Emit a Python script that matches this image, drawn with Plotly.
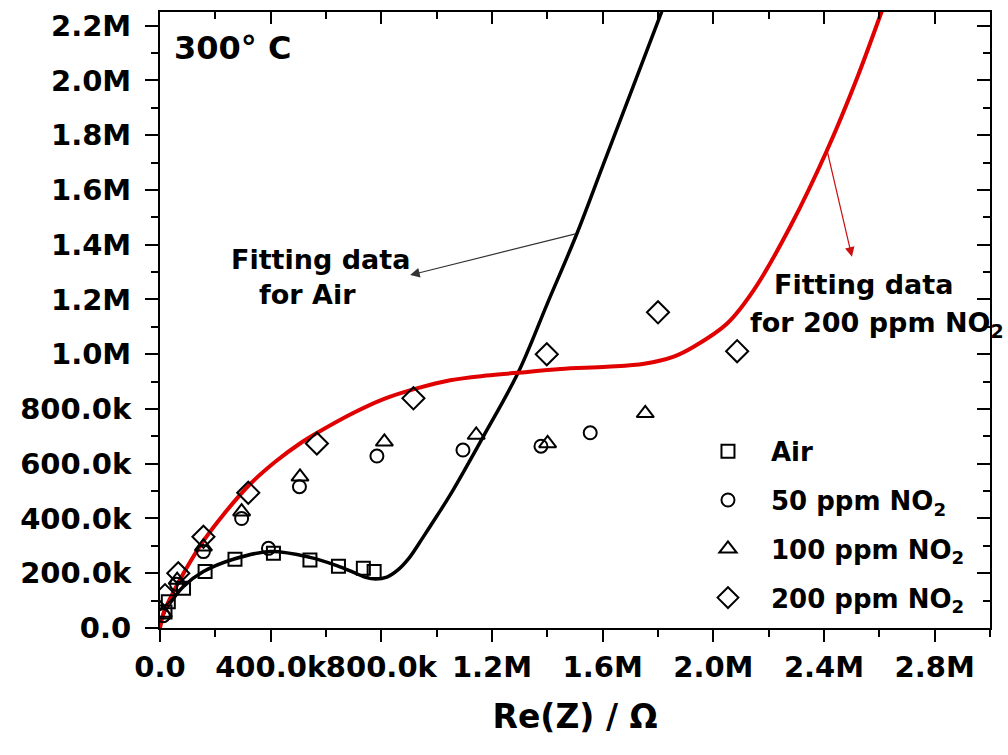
import plotly.graph_objects as go

# ---------------- data (ohm) ----------------
air_x = [18e3, 30e3, 85e3, 163e3, 271e3, 410e3, 542e3, 645e3, 735e3, 774e3]
air_y = [58e3, 96e3, 145e3, 206e3, 251e3, 273e3, 248e3, 226e3, 218e3, 206e3]

no2_50_x = [12e3, 60e3, 157e3, 295e3, 392e3, 504e3, 784e3, 1095e3, 1377e3, 1555e3]
no2_50_y = [45e3, 160e3, 279e3, 400e3, 291e3, 516e3, 628e3, 650e3, 664e3, 713e3]

no2_100_x = [12e3, 62e3, 157e3, 295e3, 506e3, 811e3, 1143e3, 1401e3, 1754e3]
no2_100_y = [55e3, 175e3, 297e3, 425e3, 552e3, 680e3, 705e3, 674e3, 784e3]

no2_200_x = [18e3, 66e3, 157e3, 319e3, 567e3, 916e3, 1398e3, 1800e3, 2086e3]
no2_200_y = [120e3, 200e3, 333e3, 494e3, 674e3, 839e3, 1000e3, 1153e3, 1011e3]

fit_air_x = [0, 10e3, 36e3, 84e3, 157e3, 265e3, 398e3, 542e3, 639e3, 700e3, 740e3, 780e3,
             820e3, 860e3, 900e3, 950e3, 1000e3, 1050e3, 1170e3, 1296e3, 1400e3, 1507e3,
             1600e3, 1700e3, 1811e3, 1840e3]
fit_air_y = [0, 45e3, 90e3, 151e3, 206e3, 251e3, 279e3, 258e3, 228e3, 203e3, 186e3, 179e3,
             186e3, 212e3, 255e3, 330e3, 408e3, 488e3, 702e3, 936e3, 1185e3, 1441e3,
             1687e3, 1951e3, 2245e3, 2325e3]

fit_200_x = [0, 12e3, 40e3, 84e3, 157e3, 229e3, 325e3, 420e3, 506e3, 567e3, 700e3, 808e3,
             928e3, 1049e3, 1180e3, 1290e3, 1447e3, 1616e3, 1750e3, 1857e3, 1929e3, 2050e3,
             2146e3, 2280e3, 2411e3, 2520e3, 2610e3, 2640e3]
fit_200_y = [0, 52e3, 115e3, 198e3, 318e3, 414e3, 525e3, 610e3, 674e3, 712e3, 786e3, 836e3,
             875e3, 905e3, 922e3, 932e3, 946e3, 954e3, 965e3, 991e3, 1027e3, 1112e3,
             1234e3, 1470e3, 1745e3, 2010e3, 2256e3, 2340e3]

x_tickvals = [0, 400e3, 800e3, 1.2e6, 1.6e6, 2.0e6, 2.4e6, 2.8e6]
x_ticktext = ["0.0", "400.0k", "800.0k", "1.2M", "1.6M", "2.0M", "2.4M", "2.8M"]
y_tickvals = [0, 200e3, 400e3, 600e3, 800e3, 1.0e6, 1.2e6, 1.4e6, 1.6e6, 1.8e6, 2.0e6, 2.2e6]
y_ticktext = ["0.0", "200.0k", "400.0k", "600.0k", "800.0k", "1.0M", "1.2M", "1.4M",
              "1.6M", "1.8M", "2.0M", "2.2M"]

X_RANGE = [0, 3.0e6]
Y_RANGE = [0, 2.25e6]

FONT = "DejaVu Sans"

fig = go.Figure()

fig.add_trace(go.Scatter(x=fit_air_x, y=fit_air_y, mode="lines", showlegend=False,
                         line=dict(color="black", width=3.5, shape="spline", smoothing=1.0),
                         hoverinfo="skip"))
fig.add_trace(go.Scatter(x=fit_200_x, y=fit_200_y, mode="lines", showlegend=False,
                         line=dict(color="#e00000", width=4, shape="spline", smoothing=1.0),
                         hoverinfo="skip"))

marker_line = dict(color="black", width=2)
series = [
    ("Air", air_x, air_y, "square-open", 13, "g1"),
    ("50 ppm NO<sub>2</sub>", no2_50_x, no2_50_y, "circle-open", 13, "g2"),
    ("100 ppm NO<sub>2</sub>", no2_100_x, no2_100_y, "triangle-up-open", 15, "g3"),
    ("200 ppm NO<sub>2</sub>", no2_200_x, no2_200_y, "diamond-open", 17, "g4"),
]
for name, xs, ys, sym, size, grp in series:
    fig.add_trace(go.Scatter(x=xs, y=ys, mode="markers", name=name, legendgroup=grp,
                             marker=dict(symbol=sym, size=size, color="black",
                                         line=marker_line)))

# invisible trace for mirrored inside-tick axes
fig.add_trace(go.Scatter(x=[None], y=[None], xaxis="x2", yaxis="y2", showlegend=False,
                         hoverinfo="skip"))

tickfont = dict(family=FONT, size=29, color="black", weight="bold")

fig.update_layout(
    width=1008, height=755,
    margin=dict(l=160, r=18, t=12, b=127, autoexpand=False),
    paper_bgcolor="white", plot_bgcolor="white",
    font=dict(family=FONT, color="black", weight="bold"),
    xaxis=dict(range=X_RANGE, tickvals=x_tickvals, ticktext=x_ticktext, tickangle=0,
               automargin=False,
               showgrid=False, zeroline=False, showline=True, linecolor="black",
               linewidth=2, mirror=True, ticks="outside", ticklen=12, tickwidth=2,
               tickcolor="black", tickfont=tickfont, ticklabelstandoff=0,
               minor=dict(dtick=200e3, tick0=0, ticks="outside", ticklen=7, tickwidth=2,
                          tickcolor="black", showgrid=False),
               title=dict(text="Re(Z) / Ω", font=dict(family=FONT, size=33, weight="bold"),
                          standoff=22)),
    yaxis=dict(range=Y_RANGE, tickvals=y_tickvals, ticktext=y_ticktext, automargin=False,
               showgrid=False, zeroline=False, showline=True, linecolor="black",
               linewidth=2, mirror=True, ticks="outside", ticklen=13, tickwidth=2,
               tickcolor="black", tickfont=tickfont, ticklabelstandoff=8,
               minor=dict(dtick=100e3, tick0=0, ticks="outside", ticklen=7, tickwidth=2,
                          tickcolor="black", showgrid=False)),
    xaxis2=dict(range=X_RANGE, overlaying="x", side="top", anchor="y", automargin=False,
                tickvals=x_tickvals, showticklabels=False, showgrid=False, zeroline=False,
                ticks="inside", ticklen=12, tickwidth=2, tickcolor="black",
                minor=dict(dtick=200e3, tick0=0, ticks="inside", ticklen=7, tickwidth=2,
                           tickcolor="black", showgrid=False)),
    yaxis2=dict(range=Y_RANGE, overlaying="y", side="right", anchor="x", automargin=False,
                tickvals=y_tickvals, showticklabels=False, showgrid=False, zeroline=False,
                ticks="inside", ticklen=13, tickwidth=2, tickcolor="black",
                minor=dict(dtick=100e3, tick0=0, ticks="inside", ticklen=7, tickwidth=2,
                           tickcolor="black", showgrid=False)),
    legend=dict(x=0.6325, y=0.325, xanchor="left", yanchor="top",
                bgcolor="rgba(0,0,0,0)", borderwidth=0,
                font=dict(family=FONT, size=26, color="black", weight="bold"),
                tracegroupgap=12, itemwidth=76),
    showlegend=True,
)

ann_font = dict(family=FONT, size=27, color="black", weight="bold")
annotations = [
    dict(text="300° C", xref="paper", yref="paper", x=0.0145, y=0.9416,
         xanchor="left", yanchor="middle", showarrow=False,
         font=dict(family=FONT, size=32, color="black", weight="bold")),
    dict(text="Fitting data", xref="x", yref="y", x=0.579e6, y=1.347e6,
         xanchor="center", yanchor="middle", showarrow=False, font=ann_font),
    dict(text="for Air", xref="x", yref="y", x=0.533e6, y=1.219e6,
         xanchor="center", yanchor="middle", showarrow=False, font=ann_font),
    dict(text="Fitting data", xref="x", yref="y", x=2.544e6, y=1.256e6,
         xanchor="center", yanchor="middle", showarrow=False, font=ann_font),
    dict(text="for 200 ppm NO<sub>2</sub>", xref="x", yref="y", x=2.127e6, y=1.110e6,
         xanchor="left", yanchor="middle", showarrow=False, font=ann_font),
    # arrows: head near text, tail on fitted curve
    dict(text="", xref="x", yref="y", x=0.904e6, y=1.289e6,
         axref="x", ayref="y", ax=1.507e6, ay=1.441e6,
         showarrow=True, arrowhead=2, arrowsize=1.6, arrowwidth=1.2, arrowcolor="#333333"),
    dict(text="", xref="x", yref="y", x=2.501e6, y=1.356e6,
         axref="x", ayref="y", ax=2.411e6, ay=1.745e6,
         showarrow=True, arrowhead=2, arrowsize=1.6, arrowwidth=1.2, arrowcolor="#cc1010"),
]
fig.update_layout(annotations=annotations)

fig.write_html("out.html")
